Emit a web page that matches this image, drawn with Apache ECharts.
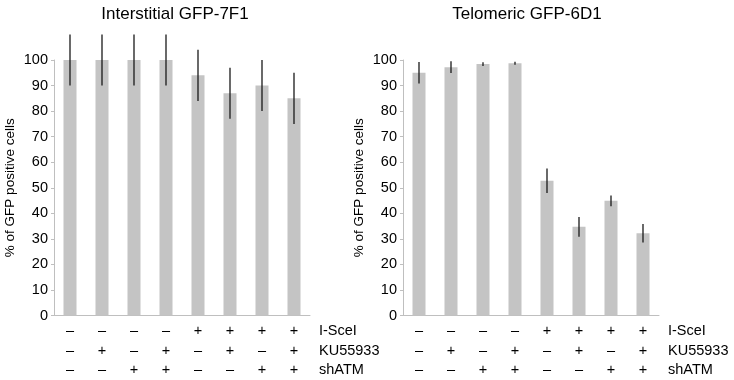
<!DOCTYPE html>
<html><head><meta charset="utf-8">
<script src="https://cdn.jsdelivr.net/npm/echarts@6/dist/echarts.min.js"></script>
<style>html,body{margin:0;padding:0;background:#fff}#c{width:734px;height:380px}</style>
</head><body><div id="c"></div>
<script>
const titles = ['Interstitial GFP-7F1', 'Telomeric GFP-6D1'];
const yAxisTitle = '% of GFP positive cells';
const rowNames = ['I-SceI', 'KU55933', 'shATM'];
const isceI = ['–','–','–','–','+','+','+','+'];
const ku55933 = ['–','+','–','+','–','+','–','+'];
const shATM = ['–','–','+','+','–','–','+','+'];
const categories = ['1','2','3','4','5','6','7','8'];
const interstitialValues = [100, 100, 100, 100, 94, 87, 90, 85];
const interstitialErrors = [10, 10, 10, 10, 10, 10, 10, 10];
const telomericValues = [95, 97.2, 98.4, 98.7, 52.7, 34.7, 44.9, 32.2];
const telomericErrors = [4.2, 2.3, 0.7, 0.6, 4.8, 3.9, 2.1, 3.6];
const yTicks = {min: 0, max: 100, interval: 10};

const font = 'Liberation Sans, Arial, sans-serif';
const axisColor = '#bfbfbf';
const barColor = '#c4c4c4';

function errData(vals, errs) {
  return vals.map((v, i) => [i, v - errs[i], v + errs[i]]);
}
function errRender(params, api) {
  const lo = api.coord([api.value(0), api.value(1)]);
  const hi = api.coord([api.value(0), api.value(2)]);
  return {type: 'line', shape: {x1: lo[0], y1: lo[1], x2: hi[0], y2: hi[1]},
    style: {stroke: '#1a1a1a', lineWidth: 1.3}};
}
function xAxisDef(gi) {
  return {
    type: 'category', gridIndex: gi, data: categories,
    axisLine: {lineStyle: {color: axisColor, width: 1}},
    axisTick: {show: false},
    axisLabel: {
      interval: 0, margin: 6, lineHeight: 19.5, fontSize: 14.5, color: '#000', fontFamily: font,
      formatter: (v, i) => [isceI[i], ku55933[i], shATM[i]].join('\n')
    },
    name: rowNames.join('\n'), nameLocation: 'end', nameGap: 9,
    nameTextStyle: {align: 'left', verticalAlign: 'top', lineHeight: 19.5, fontSize: 14.5,
      color: '#000', fontFamily: font, padding: [6, 0, 0, 0]}
  };
}
function yAxisDef(gi) {
  return {
    type: 'value', gridIndex: gi, min: yTicks.min, max: yTicks.max, interval: yTicks.interval,
    splitLine: {show: false},
    axisLine: {show: true, lineStyle: {color: axisColor}},
    axisTick: {show: true, length: 3, lineStyle: {color: axisColor}},
    axisLabel: {fontSize: 14.5, color: '#000', fontFamily: font, margin: 6},
    name: yAxisTitle, nameLocation: 'middle', nameGap: 37, nameRotate: 90,
    nameTextStyle: {fontSize: 13.5, color: '#000', fontFamily: font}
  };
}
const chart = echarts.init(document.getElementById('c'), null, {renderer: 'canvas'});
chart.setOption({
  animation: false,
  title: [
    {text: titles[0], left: 170, top: 1, textAlign: 'center',
      textStyle: {fontSize: 17, fontWeight: 'normal', color: '#000', fontFamily: font}},
    {text: titles[1], left: 522, top: 1, textAlign: 'center',
      textStyle: {fontSize: 17, fontWeight: 'normal', color: '#000', fontFamily: font}}
  ],
  grid: [
    {left: 54, top: 60, width: 256, height: 258},
    {left: 403, top: 60, width: 256, height: 258}
  ],
  xAxis: [xAxisDef(0), xAxisDef(1)],
  yAxis: [yAxisDef(0), yAxisDef(1)],
  series: [
    {type: 'bar', xAxisIndex: 0, yAxisIndex: 0, data: interstitialValues, barWidth: 13,
      itemStyle: {color: barColor}},
    {type: 'custom', xAxisIndex: 0, yAxisIndex: 0, data: errData(interstitialValues, interstitialErrors),
      renderItem: errRender, clip: false, z: 5},
    {type: 'bar', xAxisIndex: 1, yAxisIndex: 1, data: telomericValues, barWidth: 13,
      itemStyle: {color: barColor}},
    {type: 'custom', xAxisIndex: 1, yAxisIndex: 1, data: errData(telomericValues, telomericErrors),
      renderItem: errRender, clip: false, z: 5}
  ]
});
</script></body></html>
